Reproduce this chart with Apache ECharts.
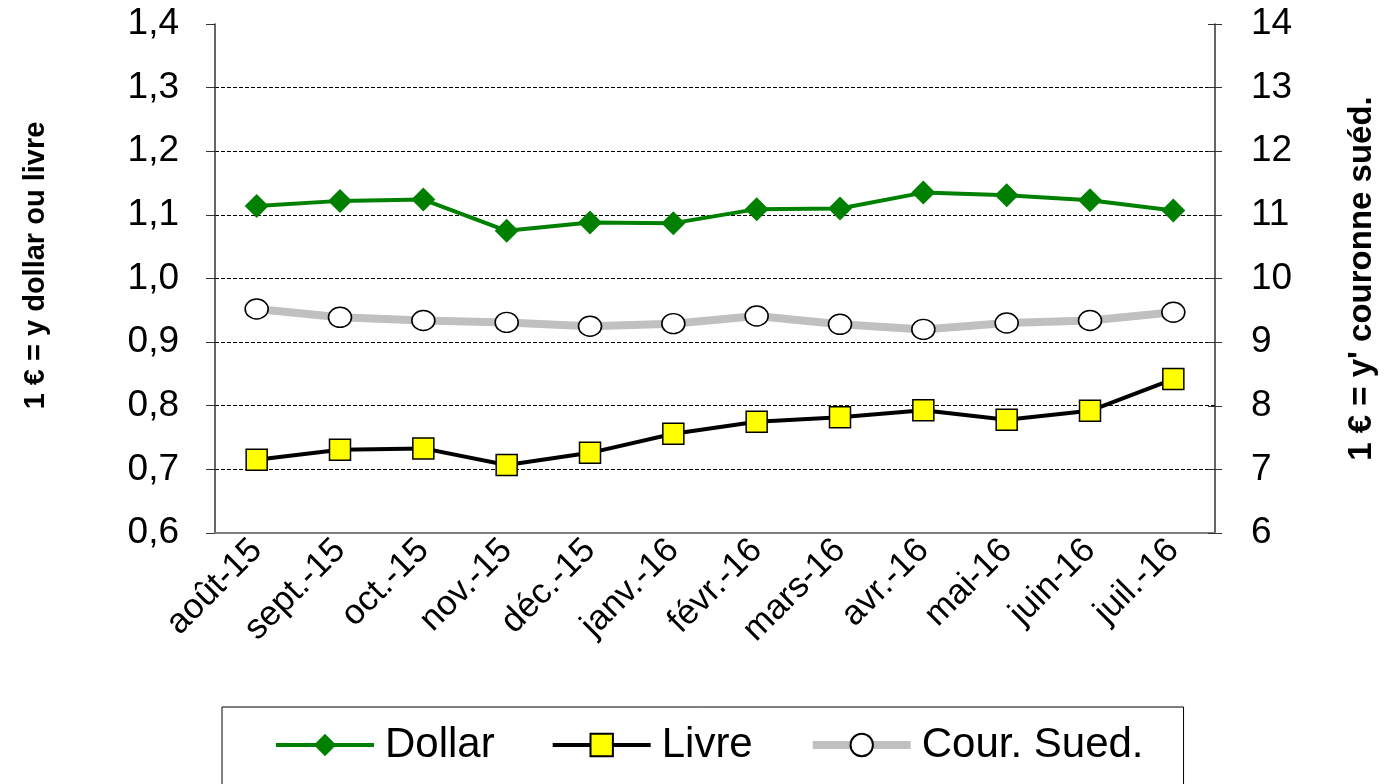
<!DOCTYPE html>
<html>
<head>
<meta charset="utf-8">
<script src="https://cdn.jsdelivr.net/npm/echarts@6/dist/echarts.min.js"></script>
<style>
  html, body { margin: 0; padding: 0; background: #fff; }
  #chart { width: 1386px; height: 784px; }
</style>
</head>
<body>
<div id="chart"></div>
<script>
const months = ["août-15", "sept.-15", "oct.-15", "nov.-15", "déc.-15", "janv.-16",
  "févr.-16", "mars-16", "avr.-16", "mai-16", "juin-16", "juil.-16"];
const dollar = [1.114, 1.122, 1.124, 1.075, 1.088, 1.087, 1.109, 1.110, 1.135, 1.131, 1.123, 1.107];
const livre = [0.715, 0.731, 0.733, 0.707, 0.726, 0.756, 0.775, 0.782, 0.793, 0.778, 0.792, 0.842];
const couronne = [9.52, 9.39, 9.34, 9.31, 9.25, 9.29, 9.41, 9.28, 9.20, 9.30, 9.34, 9.47];

const font = "Liberation Sans, Arial, sans-serif";

document.addEventListener("DOMContentLoaded", function () {
  const myChart = echarts.init(document.getElementById("chart"));
  const option = {
    animation: false,
    textStyle: { fontFamily: font },
    grid: { left: 215, right: 168, top: 24, bottom: 251 },
    legend: {
      left: 222,
      top: 707,
      padding: [17, 40, 40, 52],
      borderColor: "#000",
      borderWidth: 1,
      itemWidth: 98,
      itemHeight: 28,
      itemGap: 56,
      textStyle: { fontSize: 42, color: "#000", fontFamily: font, padding: [0, 0, 0, 6] },
      data: [
        { name: "Dollar", lineStyle: { width: 4 } },
        { name: "Livre", lineStyle: { width: 4 } },
        { name: "Cour. Sued.", lineStyle: { width: 8 } },
      ],
    },
    xAxis: {
      type: "category",
      data: months,
      axisLine: { lineStyle: { color: "#808080", width: 2 } },
      axisTick: { length: 8, lineStyle: { color: "#333" } },
      axisLabel: { rotate: 45, fontSize: 35, color: "#000", margin: 12, interval: 0 },
    },
    yAxis: [
      {
        type: "value",
        min: 0.6,
        max: 1.4,
        interval: 0.1,
        name: "1 € = y dollar ou livre",
        nameLocation: "middle",
        nameGap: 165,
        nameTextStyle: { fontSize: 29, fontWeight: "bold", color: "#000", padding: [0, 0, 0, 26] },
        axisLine: { show: true, lineStyle: { color: "#333", width: 1.5 } },
        axisTick: { show: true, length: 9, lineStyle: { color: "#333" } },
        axisLabel: {
          fontSize: 37,
          color: "#000",
          margin: 36,
          formatter: function (v) { return v.toFixed(1).replace(".", ","); },
        },
        splitLine: { showMaxLine: false, lineStyle: { color: "#000", type: [4, 2], width: 1 } },
      },
      {
        type: "value",
        min: 6,
        max: 14,
        interval: 1,
        position: "right",
        name: "1 € = y' couronne suéd.",
        nameLocation: "middle",
        nameGap: 130,
        nameRotate: 90,
        nameTextStyle: { fontSize: 33, fontWeight: "bold", color: "#000" },
        axisLine: { show: true, lineStyle: { color: "#333", width: 1.5 } },
        axisTick: { show: true, length: 7, lineStyle: { color: "#333" } },
        axisLabel: { fontSize: 37, color: "#000", margin: 36 },
        splitLine: { show: false },
      },
      {
        // inner half of the crossing ticks on the right axis
        type: "value",
        min: 6,
        max: 14,
        interval: 1,
        position: "right",
        axisLine: { show: false },
        axisTick: { show: true, inside: true, length: 7, lineStyle: { color: "#333" } },
        axisLabel: { show: false },
        splitLine: { show: false },
      },
    ],
    series: [
      {
        name: "Dollar",
        type: "line",
        yAxisIndex: 0,
        data: dollar,
        symbol: "diamond",
        symbolSize: 24,
        lineStyle: { color: "#008000", width: 4 },
        itemStyle: { color: "#008000", borderWidth: 0 },
        z: 4,
      },
      {
        name: "Livre",
        type: "line",
        yAxisIndex: 0,
        data: livre,
        symbol: "rect",
        symbolSize: 21,
        lineStyle: { color: "#000", width: 4 },
        itemStyle: { color: "#ffff00", borderColor: "#000", borderWidth: 1.5 },
        z: 3,
      },
      {
        name: "Cour. Sued.",
        type: "line",
        yAxisIndex: 1,
        data: couronne,
        symbol: "circle",
        symbolSize: [23, 20],
        lineStyle: { color: "#c0c0c0", width: 8 },
        itemStyle: { color: "#fff", borderColor: "#000", borderWidth: 1.5 },
        z: 2,
      },
    ],
  };
  myChart.setOption(option);
  window.addEventListener("resize", function () {
    myChart.resize();
  });
});
</script>
</body>
</html>
